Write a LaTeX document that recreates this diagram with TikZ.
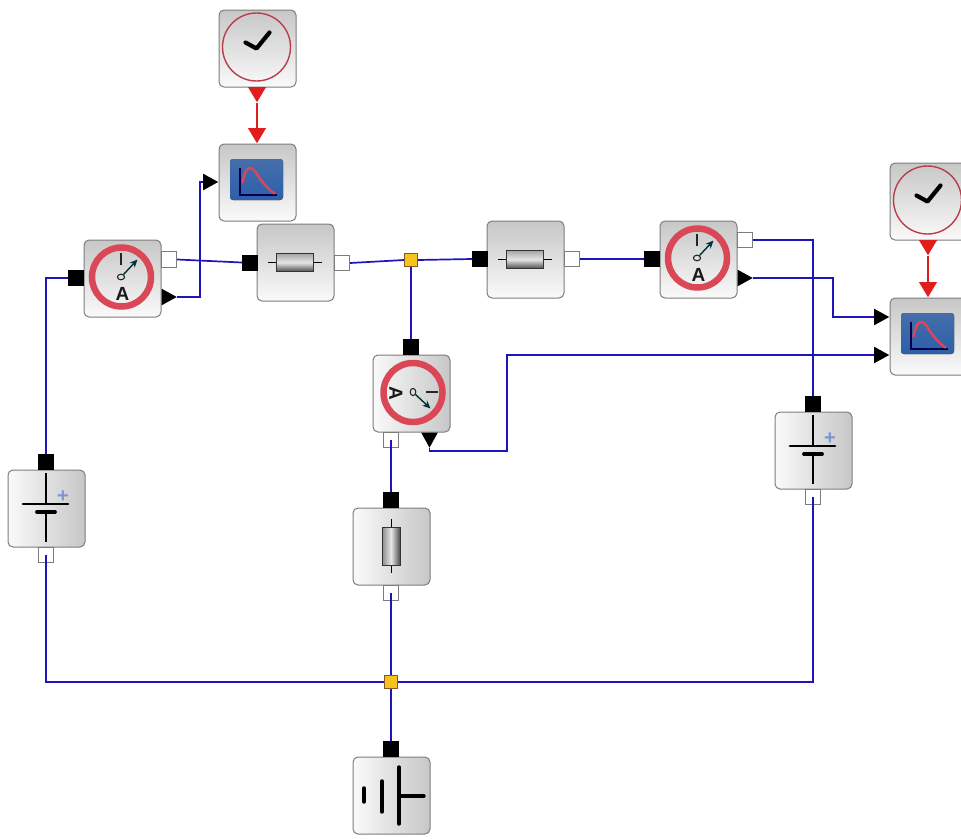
\documentclass[tikz,border=0pt]{standalone}
\usepackage{fontspec}
\setmainfont{Liberation Sans}
\usetikzlibrary{shapes.geometric,arrows.meta}
\definecolor{wireblue}{RGB}{30,20,185}
\definecolor{wirered}{RGB}{225,30,30}
\definecolor{ringred}{RGB}{218,72,88}
\definecolor{edgegray}{RGB}{125,125,125}
\definecolor{scopetop}{RGB}{70,110,170}
\definecolor{scopebot}{RGB}{45,95,170}
\definecolor{plusblue}{RGB}{125,150,210}
\definecolor{junctionyellow}{RGB}{245,195,25}
\tikzset{
  blockv/.style={draw=edgegray,line width=1pt,rounded corners=5pt,minimum size=77pt,inner sep=0pt,top color=black!22,bottom color=black!2},
  blockh/.style={draw=edgegray,line width=1pt,rounded corners=5pt,minimum size=77pt,inner sep=0pt,left color=black!2,right color=black!22},
  blackport/.style={fill=black,draw=black,minimum size=15pt,inner sep=0pt},
  whiteport/.style={fill=white,draw=edgegray,line width=0.8pt,minimum size=15.5pt,inner sep=0pt},
  tri/.style={isosceles triangle,isosceles triangle stretches=true,fill=black,inner sep=0pt,minimum height=15pt,minimum width=16.5pt,anchor=lower side},
  redtri/.style={tri,fill=wirered,minimum width=18pt},
  junction/.style={fill=junctionyellow,draw=brown!70!black,line width=0.8pt,minimum size=13pt,inner sep=0pt},
  wire/.style={draw=wireblue,line width=1.7pt},
  redwire/.style={draw=wirered,line width=1.7pt},
  iconline/.style={black,line width=3.4pt,line cap=round},
  thin line/.style={black,line width=1pt}
}
\newcommand{\clockicon}[2]{%
  \begin{scope}[shift={(#1,#2)}]
    \draw[ringred!85!black,line width=1.4pt] (-1,-1.5) circle (34);
    \draw[black,line width=4.2pt,line cap=round,line join=round] (-12,-6) -- (-1,0) -- (12,-16);
  \end{scope}}
\newcommand{\scopeicon}[2]{%
  \begin{scope}[shift={(#1,#2)}]
    \fill[rounded corners=3pt,top color=scopetop,bottom color=scopebot] (-27.5,-23.5) rectangle (25.5,17.5);
    \draw[blue!30!black,line width=1.3pt] (-17.5,-15) -- (-17.5,12.5) -- (19,12.5);
    \draw[ringred,line width=2.4pt,line cap=round] (-15,0) .. controls (-13,-9) and (-11,-15) .. (-7,-14.5) .. controls (-3,-14) and (0,-7) .. (3,-3) .. controls (7,2) and (12,8) .. (17,11);
  \end{scope}}
\newcommand{\ammicon}[4]{%
  \begin{scope}[shift={(#2,#3)},rotate=#4]
    \draw[ringred,line width=6.5pt] (-1,-1.5) circle (29.5);
    \draw[black!85,line width=1.8pt] (-1.5,-26) -- (-1.5,-14);
    \draw[black!85,line width=1.1pt] (-1.5,-1.5) ellipse (3.6 and 2.8);
    \draw[black!60!teal,line width=1.4pt,-{Stealth[length=8pt,width=7pt]}] (1,-4) -- (15,-19);
    \node[rotate=#4,font=\bfseries\fontsize{19}{19}\selectfont,text=black!90,inner sep=0pt] (#1) at (0,15.5) {A};
  \end{scope}}
\newcommand{\reshicon}[2]{%
  \begin{scope}[shift={(#1,#2)}]
    \draw[thin line] (-27,0) -- (27,0);
    \draw[black!80,line width=1pt,top color=black!35,bottom color=black!70,middle color=black!10] (-18.5,-9) rectangle (18.5,9);
  \end{scope}}
\newcommand{\resvicon}[2]{%
  \begin{scope}[shift={(#1,#2)}]
    \draw[thin line] (0,-27) -- (0,27);
    \draw[black!80,line width=1pt,left color=black!45,right color=black!70,middle color=black!10] (-9,-19) rectangle (9,19);
  \end{scope}}
\newcommand{\batticon}[3]{%
  \begin{scope}[shift={(#2,#3)}]
    \draw[black,line width=2pt] (0,-35) -- (0,-4);
    \draw[black,line width=2pt] (0,4) -- (0,34);
    \draw[black,line width=2.8pt,line cap=round] (-23,-4) -- (22,-4);
    \draw[black,line width=3.8pt,line cap=round] (-9,4) -- (9,4);
    \node[font=\bfseries\fontsize{20}{20}\selectfont,text=plusblue,inner sep=0pt] (#1) at (17,-11.5) {+};
  \end{scope}}
\begin{document}
\begin{tikzpicture}[x=1pt,y=-1pt]
\clip (0,0) rectangle (961,838);
\fill[white] (0,0) rectangle (961,838);

% blocks
\node[blockv] (clockA) at (257.5,48.5) {};
\node[blockv] (scopeA) at (257.5,182.5) {};
\node[blockv] (ammA) at (122.5,278.5) {};
\node[blockv] (resA) at (295.5,262.5) {};
\node[blockv] (resB) at (525.5,259.5) {};
\node[blockv] (ammB) at (698.5,259.5) {};
\node[blockv] (clockB) at (928.5,201.5) {};
\node[blockv] (scopeB) at (928.5,336.5) {};
\node[blockh] (ammC) at (411.5,393.5) {};
\node[blockh] (battA) at (46.5,508.5) {};
\node[blockh] (resC) at (391.5,546.5) {};
\node[blockh] (battB) at (813.5,450.5) {};
\node[blockh] (gnd) at (391.5,795.5) {};

% icons
\clockicon{257.5}{48.5}
\clockicon{928.5}{201.5}
\scopeicon{257.5}{182.5}
\scopeicon{928.5}{336.5}
\ammicon{labelA}{122.5}{278.5}{0}
\ammicon{labelB}{698.5}{259.5}{0}
\ammicon{labelC}{411.5}{393.5}{-90}
\reshicon{294.5}{262.5}
\reshicon{524.5}{259.5}
\resvicon{391}{546}
\batticon{plusA}{46}{508}
\batticon{plusB}{813}{450}
\draw[iconline] (364,788) -- (364,802);
\draw[iconline] (382,781) -- (382,812);
\draw[iconline] (399,767) -- (399,824);
\draw[iconline] (399,796) -- (424,796);

% ports
\node[blackport] (ammAin) at (76,278) {};
\node[whiteport] (ammAout) at (169,259.5) {};
\node[tri] (ammAmeas) at (161.5,297) {};
\node[blackport] (resAin) at (249.5,262.5) {};
\node[whiteport] (resAout) at (342,263) {};
\node[blackport] (resBin) at (479.5,259) {};
\node[whiteport] (resBout) at (572,259) {};
\node[blackport] (ammBin) at (652,259) {};
\node[whiteport] (ammBout) at (745,240) {};
\node[tri] (ammBmeas) at (737.5,278) {};
\node[blackport] (ammCin) at (411,347) {};
\node[whiteport] (ammCout) at (391,440) {};
\node[tri,shape border rotate=270] (ammCmeas) at (429.5,432.5) {};
\node[blackport] (resCin) at (391,500) {};
\node[whiteport] (resCout) at (391,593) {};
\node[blackport] (battAin) at (46,462) {};
\node[whiteport] (battAout) at (46,555) {};
\node[blackport] (battBin) at (813,404) {};
\node[whiteport] (battBout) at (813,497) {};
\node[blackport] (gndin) at (391,749) {};
\node[tri] (scopeAin) at (203,182) {};
\node[tri] (scopeBa) at (874,317) {};
\node[tri] (scopeBb) at (874,355) {};
\node[redtri,shape border rotate=270] (clockAout) at (257,87) {};
\node[redtri,shape border rotate=270] (scopeAev) at (257,128) {};
\node[redtri,shape border rotate=270] (clockBout) at (928,240) {};
\node[redtri,shape border rotate=270] (scopeBev) at (928,282) {};

% blue wires
\node[coordinate] (jb) at (391,682) {};
\draw[wire] (battAin.north) -- (46,278) -- (ammAin.west);
\draw[wire] (ammAout.east) -- (resAin.west);
\draw[wire] (ammAmeas.apex) -- (200,297) -- (200,182) -- (scopeAin.lower side);
\draw[wire] (battAout.center) -- (46,682) -- (jb);
\draw[wire] (resCout.center) -- (jb);
\draw[wire] (battBout.center) -- (813,682) -- (jb);
\draw[wire] (jb) -- (gndin.north);
\draw[wire] (ammBout.east) -- (813,240) -- (battBin.north);
\draw[wire] (ammBmeas.apex) -- (833,278) -- (833,317) -- (scopeBa.lower side);
\draw[wire] (scopeBb.lower side) -- (507,355) -- (507,451) -- (429.5,451) -- (ammCmeas.apex);
\draw[wire] (ammCout.center) -- (resCin.north);
\draw[wire] (resBout.east) -- (ammBin.west);
\node[junction] (jtop) at (411,260) {};
\node[junction] (jbot) at (jb) {};
\draw[wire] (resAout.east) -- (jtop.west);
\draw[wire] (jtop.east) -- (resBin.west);
\draw[wire] (jtop.south) -- (ammCin.north);

% red wires
\draw[redwire] (clockAout.apex) -- (scopeAev.lower side);
\draw[redwire] (clockBout.apex) -- (scopeBev.lower side);
\end{tikzpicture}
\end{document}
